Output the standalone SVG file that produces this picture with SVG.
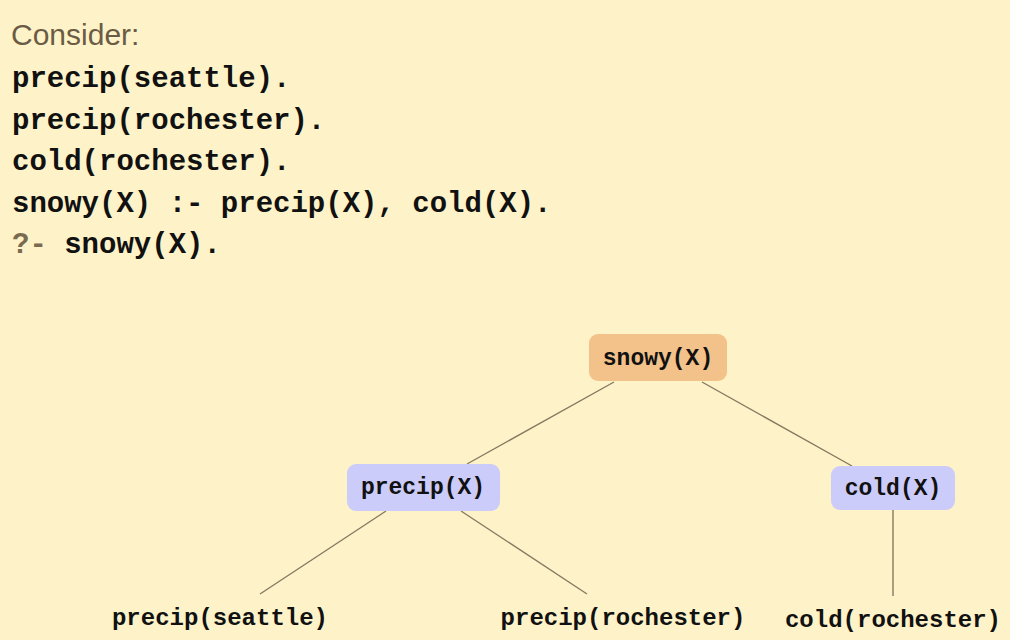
<svg xmlns="http://www.w3.org/2000/svg" width="1010" height="640" viewBox="0 0 1010 640">
<style>
.code{font-family:"Liberation Mono","DejaVu Sans Mono",monospace;font-size:29px;font-weight:bold;fill:#111}
.prompt{fill:#7a6a50}
.head{font-family:"Liberation Sans","DejaVu Sans",sans-serif;font-size:30px;fill:#6b5b45}
.lbl{font-family:"Liberation Mono","DejaVu Sans Mono",monospace;font-size:23px;font-weight:bold;fill:#111;text-anchor:middle}
.leaf{font-size:24px}
.edge{stroke:#857a62;stroke-width:1.4;fill:none}
.root{fill:#f3c18a}
.inner{fill:#ccccfa}
</style>
<rect width="1010" height="640" fill="#fef3c8"/>
<g id="program">
<text class="head" x="11" y="45">Consider:</text>
<text class="code" x="12" y="87">precip(seattle).</text>
<text class="code" x="12" y="128.5">precip(rochester).</text>
<text class="code" x="12" y="170">cold(rochester).</text>
<text class="code" x="12" y="211.5">snowy(X) :- precip(X), cold(X).</text>
<text class="code" x="12" y="253"><tspan class="prompt">?-</tspan> snowy(X).</text>
</g>
<g id="connectors">
<line class="edge" x1="614" y1="382" x2="467" y2="464"/>
<line class="edge" x1="702" y1="382" x2="852" y2="466"/>
<line class="edge" x1="386" y1="511" x2="260" y2="594"/>
<line class="edge" x1="461" y1="511" x2="587" y2="594"/>
<line class="edge" x1="893" y1="509" x2="893" y2="596"/>
</g>
<g id="snowy">
<rect class="root" x="589" y="334" width="138" height="47" rx="9"/>
<text class="lbl" x="658" y="365">snowy(X)</text>
</g>
<g id="precipX">
<rect class="inner" x="347" y="464" width="153" height="47" rx="9"/>
<text class="lbl" x="423" y="494">precip(X)</text>
</g>
<g id="coldX">
<rect class="inner" x="831" y="466" width="124" height="44" rx="9"/>
<text class="lbl" x="893" y="495">cold(X)</text>
</g>
<g id="precipSeattle">
<text class="lbl leaf" x="220" y="625">precip(seattle)</text>
</g>
<g id="precipRochester">
<text class="lbl leaf" x="623" y="625">precip(rochester)</text>
</g>
<g id="coldRochester">
<text class="lbl leaf" x="893" y="627">cold(rochester)</text>
</g>
</svg>
